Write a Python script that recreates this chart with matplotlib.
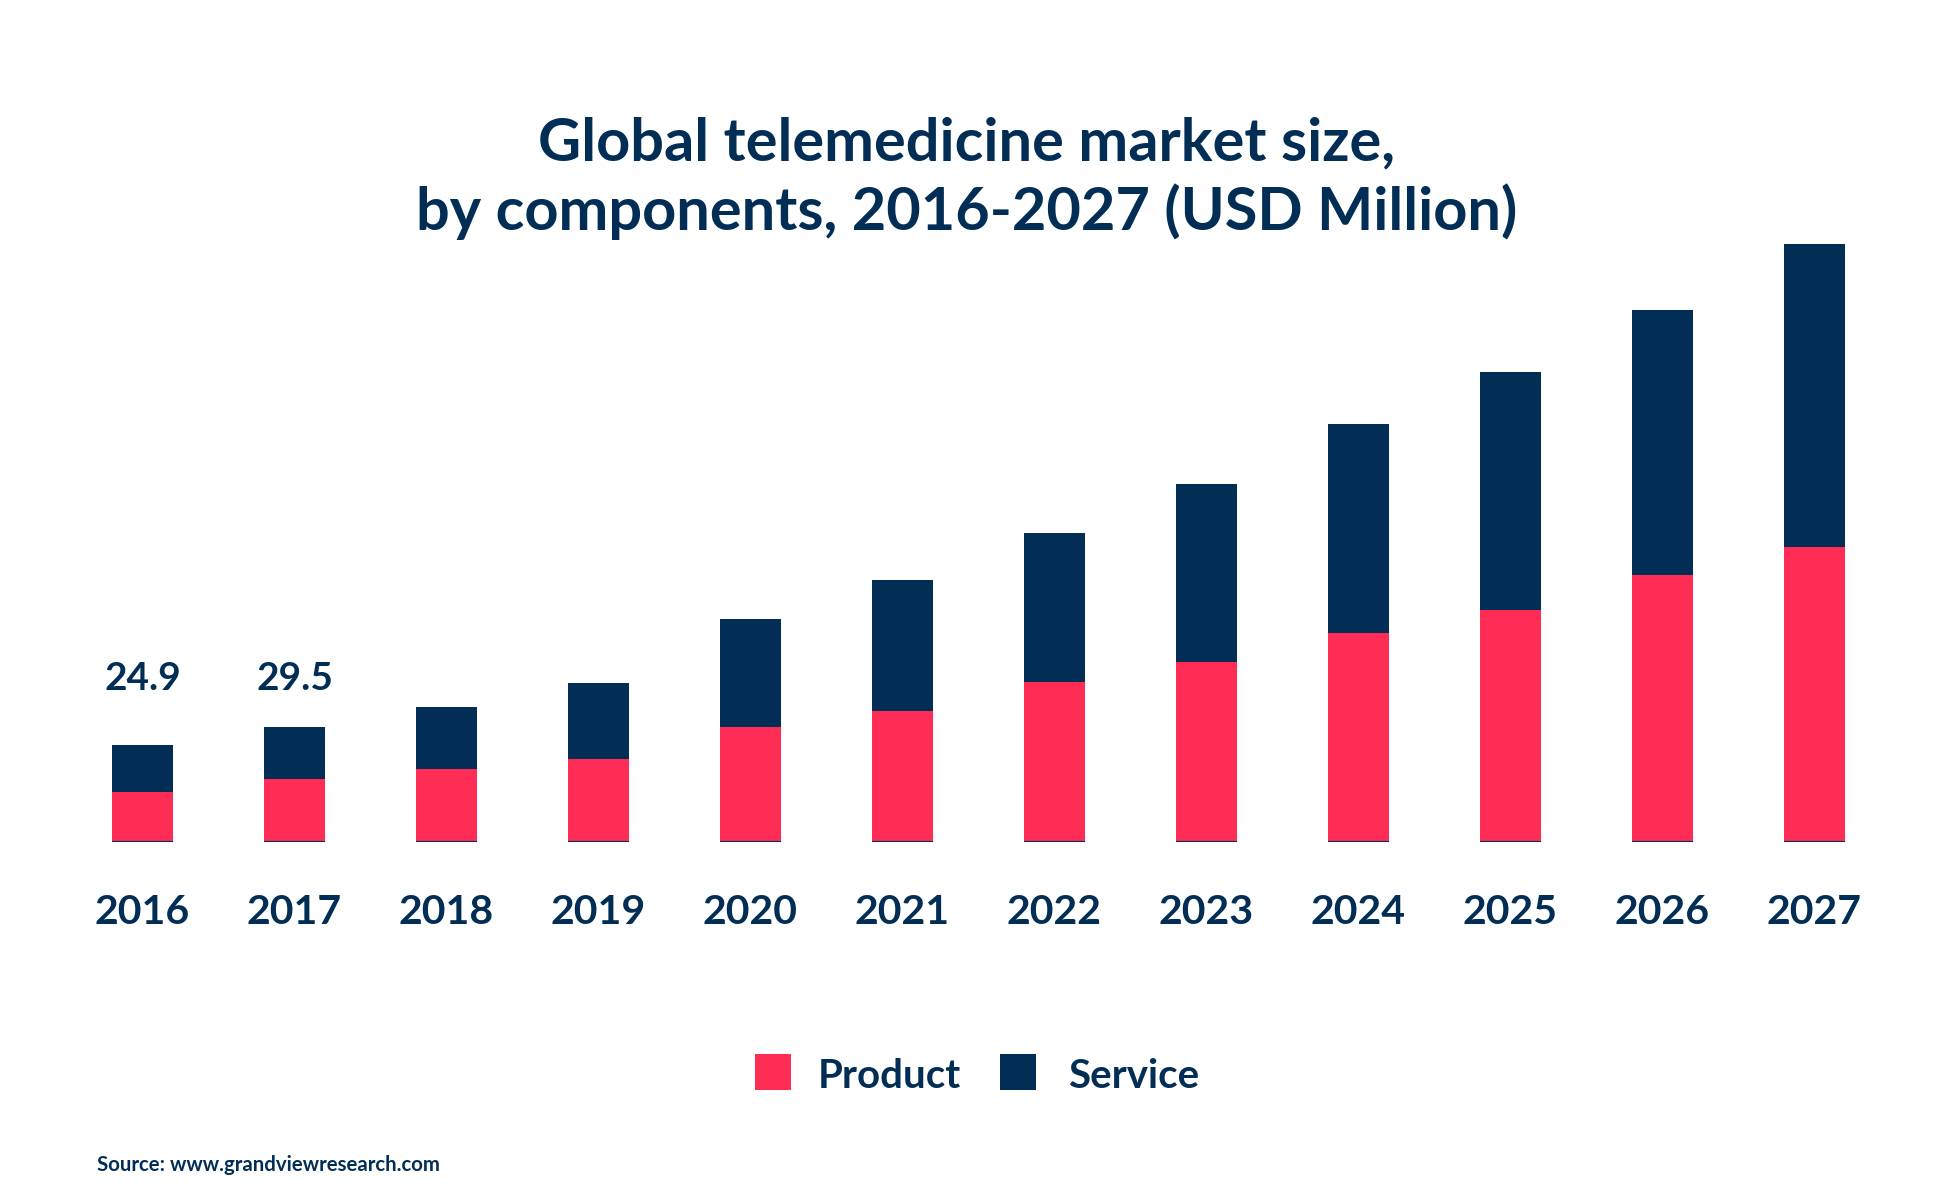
import numpy as np
import matplotlib.pyplot as plt
from matplotlib.patches import Rectangle

plt.rcParams['font.family'] = ['Lato', 'DejaVu Sans']

# data (USD)
years = ['2016', '2017', '2018', '2019', '2020', '2021',
         '2022', '2023', '2024', '2025', '2026', '2027']
product = [12.8, 16.1, 18.6, 21.2, 29.4, 33.7, 40.9, 46.1, 53.5, 59.4, 68.4, 75.6]
service = [12.1, 13.4, 15.9, 19.5, 27.8, 33.5, 38.3, 45.7, 53.7, 61.0, 68.0, 77.7]
labelled = {0: '24.9', 1: '29.5'}

red = '#FF2C55'
navy = '#022E56'

W, H = 1947, 1201
fig = plt.figure(figsize=(W / 100, H / 100), dpi=100)
fig.patch.set_facecolor('white')

# axes: baseline at y=842px, top at 200px, spans full width
ax = fig.add_axes([0, (H - 842) / H, 1, (842 - 200) / H])
x = np.arange(len(years))
step = 152.0
x0 = 142.5
ax.set_xlim(-x0 / step, (W - x0) / step)
ax.set_ylim(0, 642 / 3.9)

bw = 61 / step
ax.bar(x, product, width=bw, color=red, linewidth=0)
ax.bar(x, service, width=bw, bottom=product, color=navy, linewidth=0)
ax.hlines(np.zeros(len(x)), x - bw / 2, x + bw / 2, color=navy, linewidth=1.5)

# value labels sit on one line above the first two bars
for i, txt in labelled.items():
    ax.text(x[i], 163 / 3.9, txt, ha='center', va='center',
            fontsize=28, fontweight='bold', color=navy)

for i, yr in enumerate(years):
    ax.text(x[i], -71 / 3.9, yr, ha='center', va='center',
            fontsize=29.5, fontweight='bold', color=navy, clip_on=False)

ax.axis('off')

# title
fig.text(967 / W, 1 - 143 / H, 'Global telemedicine market size,',
         ha='center', va='center', fontsize=42.8, fontweight='bold', color=navy)
fig.text(967 / W, 1 - 212 / H, 'by components, 2016-2027 (USD Million)',
         ha='center', va='center', fontsize=42.8, fontweight='bold', color=navy)

# legend
sq = 36
for (lx, tx, lab, col) in [(755, 818, 'Product', red), (1000, 1068, 'Service', navy)]:
    fig.add_artist(Rectangle((lx / W, 1 - 1090 / H), sq / W, sq / H,
                             transform=fig.transFigure, color=col, lw=0))
    fig.text(tx / W, 1 - 1076 / H, lab, ha='left', va='center',
             fontsize=29, fontweight='bold', color=navy)

fig.text(97 / W, 1 - 1165 / H, 'Source: www.grandviewresearch.com',
         ha='left', va='center', fontsize=14.7, fontweight='bold', color=navy)

fig.savefig('out.png', dpi=100)
